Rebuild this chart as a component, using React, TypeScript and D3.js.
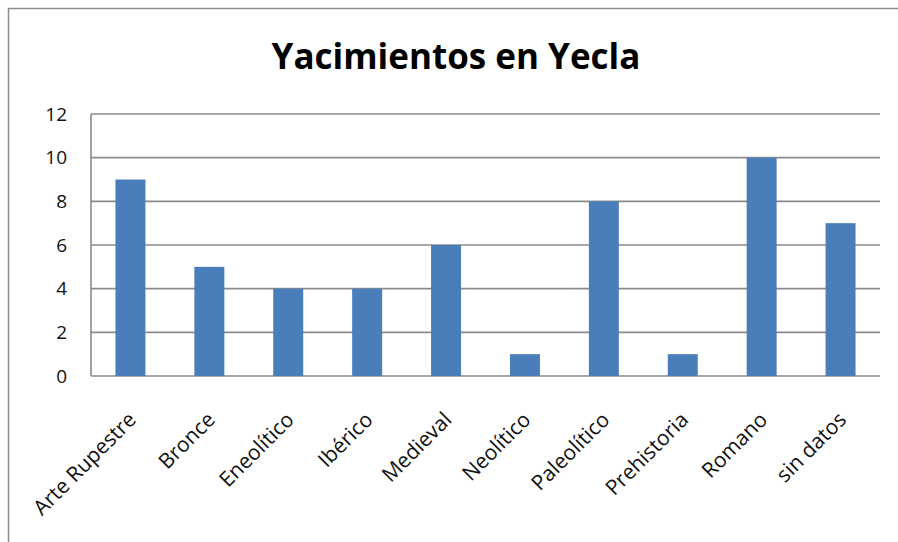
import React from "react";
import * as d3 from "d3";

const categories = [
  "Arte Rupestre",
  "Bronce",
  "Eneolítico",
  "Ibérico",
  "Medieval",
  "Neolítico",
  "Paleolítico",
  "Prehistoria",
  "Romano",
  "sin datos",
];
const values = [9, 5, 4, 4, 6, 1, 8, 1, 10, 7];
const yTicks = [0, 2, 4, 6, 8, 10, 12];
const title = "Yacimientos en Yecla";

const W = 898;
const H = 542;
const plot = { left: 91, right: 880, top: 114, bottom: 376 };
const FONT = "'Open Sans', 'Noto Sans', sans-serif";

export default function App() {
  const x = d3
    .scaleBand<string>()
    .domain(categories)
    .range([plot.left, plot.right])
    .paddingInner(0.62)
    .paddingOuter(0.31);
  const y = d3.scaleLinear().domain([0, 12]).range([plot.bottom, plot.top]);
  const grid = "#8a8a8a";

  return (
    <svg
      width={W}
      height={H}
      style={{ position: "absolute", left: 0, top: 0, background: "#fff" }}
    >
      <rect x={8.5} y={8.5} width={W + 20} height={H + 20} fill="#fff" stroke="#8c8c8c" strokeWidth={1.5} />
      <text
        x={456}
        y={69}
        textAnchor="middle"
        fontFamily={FONT}
        fontWeight="bold"
        fontSize={35}
        fill="#000"
      >
        {title}
      </text>
      {yTicks.map((t) => (
        <g key={t}>
          <line x1={plot.left} x2={plot.right} y1={y(t)} y2={y(t)} stroke={grid} strokeWidth={1.6} />
          <text
            x={67}
            y={y(t)}
            dy="0.35em"
            textAnchor="end"
            fontFamily={FONT}
            fontSize={19}
            fill="#111"
          >
            {t}
          </text>
        </g>
      ))}
      <line x1={plot.left} x2={plot.left} y1={plot.top} y2={plot.bottom} stroke={grid} strokeWidth={1.6} />
      {categories.map((c, i) => (
        <rect
          key={c}
          x={x(c)}
          y={y(values[i])}
          width={x.bandwidth()}
          height={y(0) - y(values[i])}
          fill="#4a7ebb"
        />
      ))}
      {categories.map((c) => {
        const cx = (x(c) as number) + x.bandwidth() / 2;
        return (
          <text
            key={c}
            transform={`translate(${cx + 7},${plot.bottom + 45}) rotate(-45)`}
            textAnchor="end"
            fontFamily={FONT}
            fontSize={21}
            fill="#111"
          >
            {c}
          </text>
        );
      })}
    </svg>
  );
}
